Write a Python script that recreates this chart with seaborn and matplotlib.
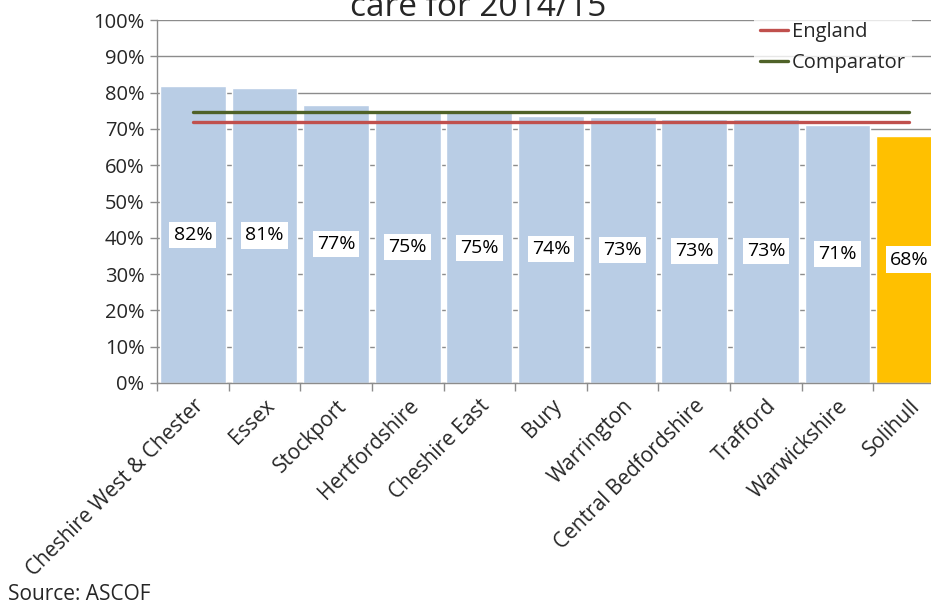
import matplotlib
matplotlib.use("Agg")
import matplotlib.pyplot as plt
import seaborn as sns
import numpy as np
import pandas as pd
from matplotlib.ticker import FixedLocator, FuncFormatter

categories = ["Cheshire West & Chester", "Essex", "Stockport", "Hertfordshire",
              "Cheshire East", "Bury", "Warrington", "Central Bedfordshire",
              "Trafford", "Warwickshire", "Solihull"]
values = [81.7, 81.3, 76.6, 75.0, 74.6, 73.6, 73.2, 72.8, 72.6, 71.0, 68.0]
labels = ["82%", "81%", "77%", "75%", "75%", "74%", "73%", "73%", "73%", "71%", "68%"]
england = [71.8] * len(categories)
comparator = [74.7] * len(categories)
yticks = [0, 10, 20, 30, 40, 50, 60, 70, 80, 90, 100]

sns.set_theme(style="white")
plt.rcParams["font.family"] = ["Open Sans", "DejaVu Sans"]

fig = plt.figure(figsize=(9.31, 6.05), dpi=100)
ax = fig.add_axes([157/931, 1 - 383/605, 788/931, 363/605])

df = pd.DataFrame({"cat": categories, "val": values})
colors = ["#B9CDE5"] * (len(categories) - 1) + ["#FFC000"]
sns.barplot(data=df, x="cat", y="val", hue="cat", palette=colors, legend=False,
            width=0.92, saturation=1, ax=ax, zorder=2)

xs = np.arange(len(categories))
sns.lineplot(x=xs, y=england, color="#C0504D", lw=2.4, ax=ax, label="England", zorder=3)
sns.lineplot(x=xs, y=comparator, color="#4F6228", lw=2.4, ax=ax, label="Comparator", zorder=3)

for i, (v, lab) in enumerate(zip(values, labels)):
    ax.text(i, v / 2, lab, ha="center", va="center", fontsize=14, color="black",
            bbox=dict(facecolor="white", edgecolor="none", pad=3), zorder=4)

ax.set_xlim(-0.5, len(categories) - 0.5)
ax.set_ylim(0, 100)
ax.yaxis.set_major_locator(FixedLocator(yticks))
ax.yaxis.set_major_formatter(FuncFormatter(lambda v, p: f"{int(v)}%"))
ax.grid(axis="y", color="#8C8C8C", lw=1, zorder=0)
ax.set_axisbelow(True)
ax.set_xlabel("")
ax.set_ylabel("")

for s in ["top", "right"]:
    ax.spines[s].set_visible(False)
for s in ["left", "bottom"]:
    ax.spines[s].set_color("#8C8C8C")
    ax.spines[s].set_linewidth(1)

ax.set_xticks(xs)
ax.set_xticklabels(categories, rotation=45, ha="right", rotation_mode="anchor", fontsize=15)
ax.set_xticks(np.arange(-0.5, len(categories), 1), minor=True)
ax.tick_params(axis="x", which="major", length=0, pad=9)
ax.tick_params(axis="x", which="minor", length=6, color="#8C8C8C", direction="out", width=1)
ax.tick_params(axis="y", length=5, color="#8C8C8C", direction="out", width=1, labelsize=14.5, pad=4)
ax.tick_params(axis="both", bottom=True, left=True, which="both")

leg = ax.legend(loc="upper right", bbox_to_anchor=(922/931, 1 - 6/605),
                bbox_transform=fig.transFigure, frameon=True, fontsize=14.5,
                handlelength=1.4, handletextpad=0.2, borderpad=0.3, labelspacing=0.55,
                fancybox=False)
leg.get_frame().set_facecolor("white")
leg.get_frame().set_edgecolor("none")
leg.set_zorder(5)

fig.text(478/931, 1 - 16/605, "care for 2014/15", ha="center", va="baseline", fontsize=24)
fig.text(8/931, 1 - 595/605, "Source: ASCOF", ha="left", va="center", fontsize=15)

fig.savefig("out.png", dpi=100)
